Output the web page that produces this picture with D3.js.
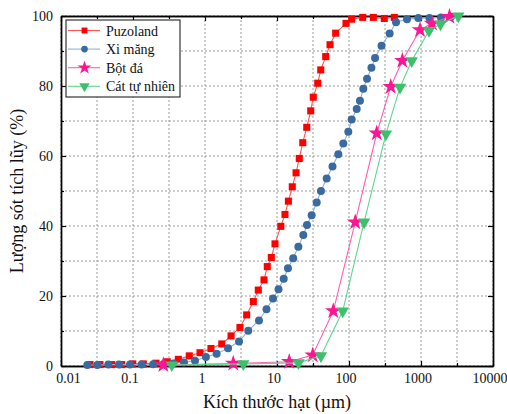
<!DOCTYPE html>
<html>
<head>
<meta charset="utf-8">
<script src="https://cdn.jsdelivr.net/npm/d3@7/dist/d3.min.js"></script>
<style>
  html, body { margin: 0; padding: 0; background: #fff; }
  svg { display: block; }
  text { font-family: "Liberation Serif", "Times New Roman", serif; fill: #111; }
</style>
</head>
<body>
<svg id="chart" width="507" height="414"></svg>
<script>
// ---- data (particle size in µm, cumulative passing %) ----
const seriesNames = ["Puzoland", "Xi măng", "Bột đá", "Cát tự nhiên"];

const puzolandSize = [0.0253, 0.0348, 0.0506, 0.0697, 0.0991, 0.139, 0.209, 0.299, 0.426, 0.605,
  0.853, 1.21, 1.71, 2.30, 3.06, 3.79, 4.69, 5.50, 6.60, 7.33, 8.34, 9.38, 11.3, 12.9, 14.4,
  16.3, 18.4, 20.4, 22.8, 25.9, 29.4, 31.9, 36.8, 40.5, 47.5, 54.5, 65.3, 90.9, 109, 155, 218, 309, 426];
const puzolandPct = [0.4, 0.4, 0.4, 0.4, 0.6, 0.6, 0.8, 1.2, 1.9, 2.9,
  3.8, 5.0, 6.3, 8.6, 11.0, 14.6, 18.4, 21.7, 24.6, 28.4, 31.0, 34.9, 39.9, 43.3, 47.1,
  51.2, 55.2, 59.3, 63.8, 68.2, 72.9, 76.8, 80.8, 84.6, 88.4, 91.8, 95.1, 97.9, 99.1, 99.6, 99.6, 99.3, 99.6];

const ximangSize = [0.0232, 0.0319, 0.0454, 0.0639, 0.0908, 0.132, 0.191, 0.266, 0.363, 0.511,
  0.726, 1.03, 1.45, 2.09, 2.97, 3.99, 5.62, 7.15, 8.80, 10.5, 12.4, 14.2, 16.8, 19.8, 23.2,
  26.1, 30.3, 35.6, 40.8, 49.0, 59.0, 71.0, 83.4, 97.8, 109, 128, 142, 158, 178, 205, 230,
  283, 367, 450, 639, 917, 1312, 1896, 2610];
const ximangPct = [0.3, 0.3, 0.4, 0.4, 0.4, 0.4, 0.5, 0.6, 0.7, 1.0,
  1.5, 2.6, 3.5, 5.1, 7.0, 10.1, 13.0, 16.2, 19.3, 21.9, 24.9, 27.9, 30.8, 34.1, 37.4,
  40.3, 43.1, 46.7, 50.0, 53.6, 57.0, 60.5, 63.6, 66.9, 70.4, 73.4, 75.8, 79.2, 82.1, 85.2, 88.0,
  91.5, 95.0, 98.2, 99.1, 99.4, 99.4, 99.6, 99.8];

const botdaSize = [0.264, 2.47, 14.8, 31.3, 60.5, 122, 243, 380, 550, 969, 1422, 2487];
const botdaPct  = [0.3, 0.7, 1.2, 3.1, 15.7, 41.1, 66.5, 79.8, 87.2, 96.0, 97.9, 99.8];

const catSize = [0.345, 3.40, 19.9, 40.8, 81.8, 162, 326, 511, 743, 1292, 1866, 3296];
const catPct  = [0.3, 0.6, 0.9, 2.9, 15.7, 41.1, 66.3, 79.6, 87.2, 95.8, 97.7, 100];

const xTickValues = [0.01, 0.1, 1, 10, 100, 1000, 10000];
const xTickLabels = ["0.01", "0.1", "1", "10", "100", "1000", "10000"];
const yTickValues = [0, 20, 40, 60, 80, 100];

const xTitle = "Kích thước hạt (µm)";
const yTitle = "Lượng sót tích lũy (%)";

// ---- layout ----
const svg = d3.select("#chart");
const pL = 61, pR = 493, pT = 16, pB = 366;

const x = d3.scaleLog().domain([0.01, 10000]).range([pL, pR]);
const y = d3.scaleLinear().domain([0, 100]).range([pB, pT]);

// minor positions: log midpoints between decades, and half steps on y
const xMinor = xTickValues.slice(0, -1).map(v => v * Math.sqrt(10));
const yMinor = yTickValues.slice(0, -1).map(v => v + 10);

// grid
const grid = svg.append("g");
xTickValues.concat(xMinor).forEach(v => {
  grid.append("line").attr("x1", x(v)).attr("x2", x(v)).attr("y1", pT).attr("y2", pB)
    .attr("stroke", "#9a9a9a").attr("stroke-width", 1).attr("stroke-dasharray", "2,2");
});
yTickValues.concat(yMinor).forEach(v => {
  grid.append("line").attr("y1", y(v)).attr("y2", y(v)).attr("x1", pL).attr("x2", pR)
    .attr("stroke", "#9a9a9a").attr("stroke-width", 1).attr("stroke-dasharray", "2,2");
});

// axes (ticks inward)
const axB = d3.axisBottom(x).tickValues(xTickValues).tickFormat((d, i) => xTickLabels[i]).tickSizeInner(-5).tickSizeOuter(0).tickPadding(7);
const axT = d3.axisTop(x).tickValues(xTickValues).tickFormat("").tickSizeInner(-5).tickSizeOuter(0);
const axL = d3.axisLeft(y).tickValues(yTickValues).tickSizeInner(-5).tickSizeOuter(0).tickPadding(8);
const axR = d3.axisRight(y).tickValues(yTickValues).tickFormat("").tickSizeInner(-5).tickSizeOuter(0);
const axBm = d3.axisBottom(x).tickValues(xMinor).tickFormat("").tickSizeInner(-3).tickSizeOuter(0);
const axTm = d3.axisTop(x).tickValues(xMinor).tickFormat("").tickSizeInner(-3).tickSizeOuter(0);
const axLm = d3.axisLeft(y).tickValues(yMinor).tickFormat("").tickSizeInner(-3).tickSizeOuter(0);
const axRm = d3.axisRight(y).tickValues(yMinor).tickFormat("").tickSizeInner(-3).tickSizeOuter(0);

function styleAxis(g) {
  g.selectAll("path").attr("stroke", "#000").attr("stroke-width", 1.4);
  g.selectAll("line").attr("stroke", "#000").attr("stroke-width", 1.2);
  g.selectAll("text").attr("font-family", '"Liberation Serif", serif').attr("font-size", 14).attr("fill", "#111");
}
svg.append("g").attr("transform", `translate(0,${pB})`).call(axB).call(styleAxis)
  .selectAll("text").attr("dx", (d, i) => i === 0 ? 7 : -3.5);
svg.append("g").attr("transform", `translate(0,${pT})`).call(axT).call(styleAxis);
svg.append("g").attr("transform", `translate(${pL},0)`).call(axL).call(styleAxis);
svg.append("g").attr("transform", `translate(${pR},0)`).call(axR).call(styleAxis);
svg.append("g").attr("transform", `translate(0,${pB})`).call(axBm).call(styleAxis);
svg.append("g").attr("transform", `translate(0,${pT})`).call(axTm).call(styleAxis);
svg.append("g").attr("transform", `translate(${pL},0)`).call(axLm).call(styleAxis);
svg.append("g").attr("transform", `translate(${pR},0)`).call(axRm).call(styleAxis);

// series
const series = [
  { name: seriesNames[0], xs: puzolandSize, ys: puzolandPct, line: "#ff5555", fill: "#ff0000", sym: d3.symbolSquare, size: 50, rot: 0 },
  { name: seriesNames[1], xs: ximangSize, ys: ximangPct, line: "#8fb1d6", fill: "#3a6aa0", sym: d3.symbolCircle, size: 50, rot: 0 },
  { name: seriesNames[2], xs: botdaSize, ys: botdaPct, line: "#ff5fb0", fill: "#ff1493", sym: d3.symbolStar, size: 85, rot: 0 },
  { name: seriesNames[3], xs: catSize, ys: catPct, line: "#5fd690", fill: "#3cc06c", sym: d3.symbolTriangle, size: 66, rot: 180 }
];

const lineGen = d3.line().x(d => x(d[0])).y(d => y(d[1]));
series.forEach(s => {
  const pts = s.xs.map((v, i) => [v, s.ys[i]]);
  const g = svg.append("g");
  g.append("path").attr("d", lineGen(pts)).attr("fill", "none").attr("stroke", s.line).attr("stroke-width", 1.1);
  g.selectAll("path.m").data(pts).enter().append("path").attr("class", "m")
    .attr("d", d3.symbol().type(s.sym).size(s.size))
    .attr("transform", d => `translate(${x(d[0])},${y(d[1])}) rotate(${s.rot})`)
    .attr("fill", s.fill);
});

// legend
const lg = svg.append("g");
lg.append("rect").attr("x", 66).attr("y", 20).attr("width", 114).attr("height", 77)
  .attr("fill", "#fff").attr("stroke", "#222").attr("stroke-width", 1.1);
series.forEach((s, i) => {
  const cy = 30.5 + i * 18.6;
  lg.append("line").attr("x1", 68).attr("x2", 100).attr("y1", cy).attr("y2", cy)
    .attr("stroke", s.line).attr("stroke-width", 1.1);
  lg.append("path").attr("d", d3.symbol().type(s.sym).size(s.size * 0.7))
    .attr("transform", `translate(84.5,${cy}) rotate(${s.rot})`).attr("fill", s.fill);
  lg.append("text").attr("x", 106).attr("y", cy + 5).attr("font-size", 14).text(s.name);
});

// titles
svg.append("text").attr("x", (pL + pR) / 2).attr("y", 408).attr("text-anchor", "middle")
  .attr("font-size", 18).text(xTitle);
svg.append("text").attr("transform", `translate(23,${(pT + pB) / 2}) rotate(-90)`)
  .attr("text-anchor", "middle").attr("font-size", 18).text(yTitle);
</script>
</body>
</html>
